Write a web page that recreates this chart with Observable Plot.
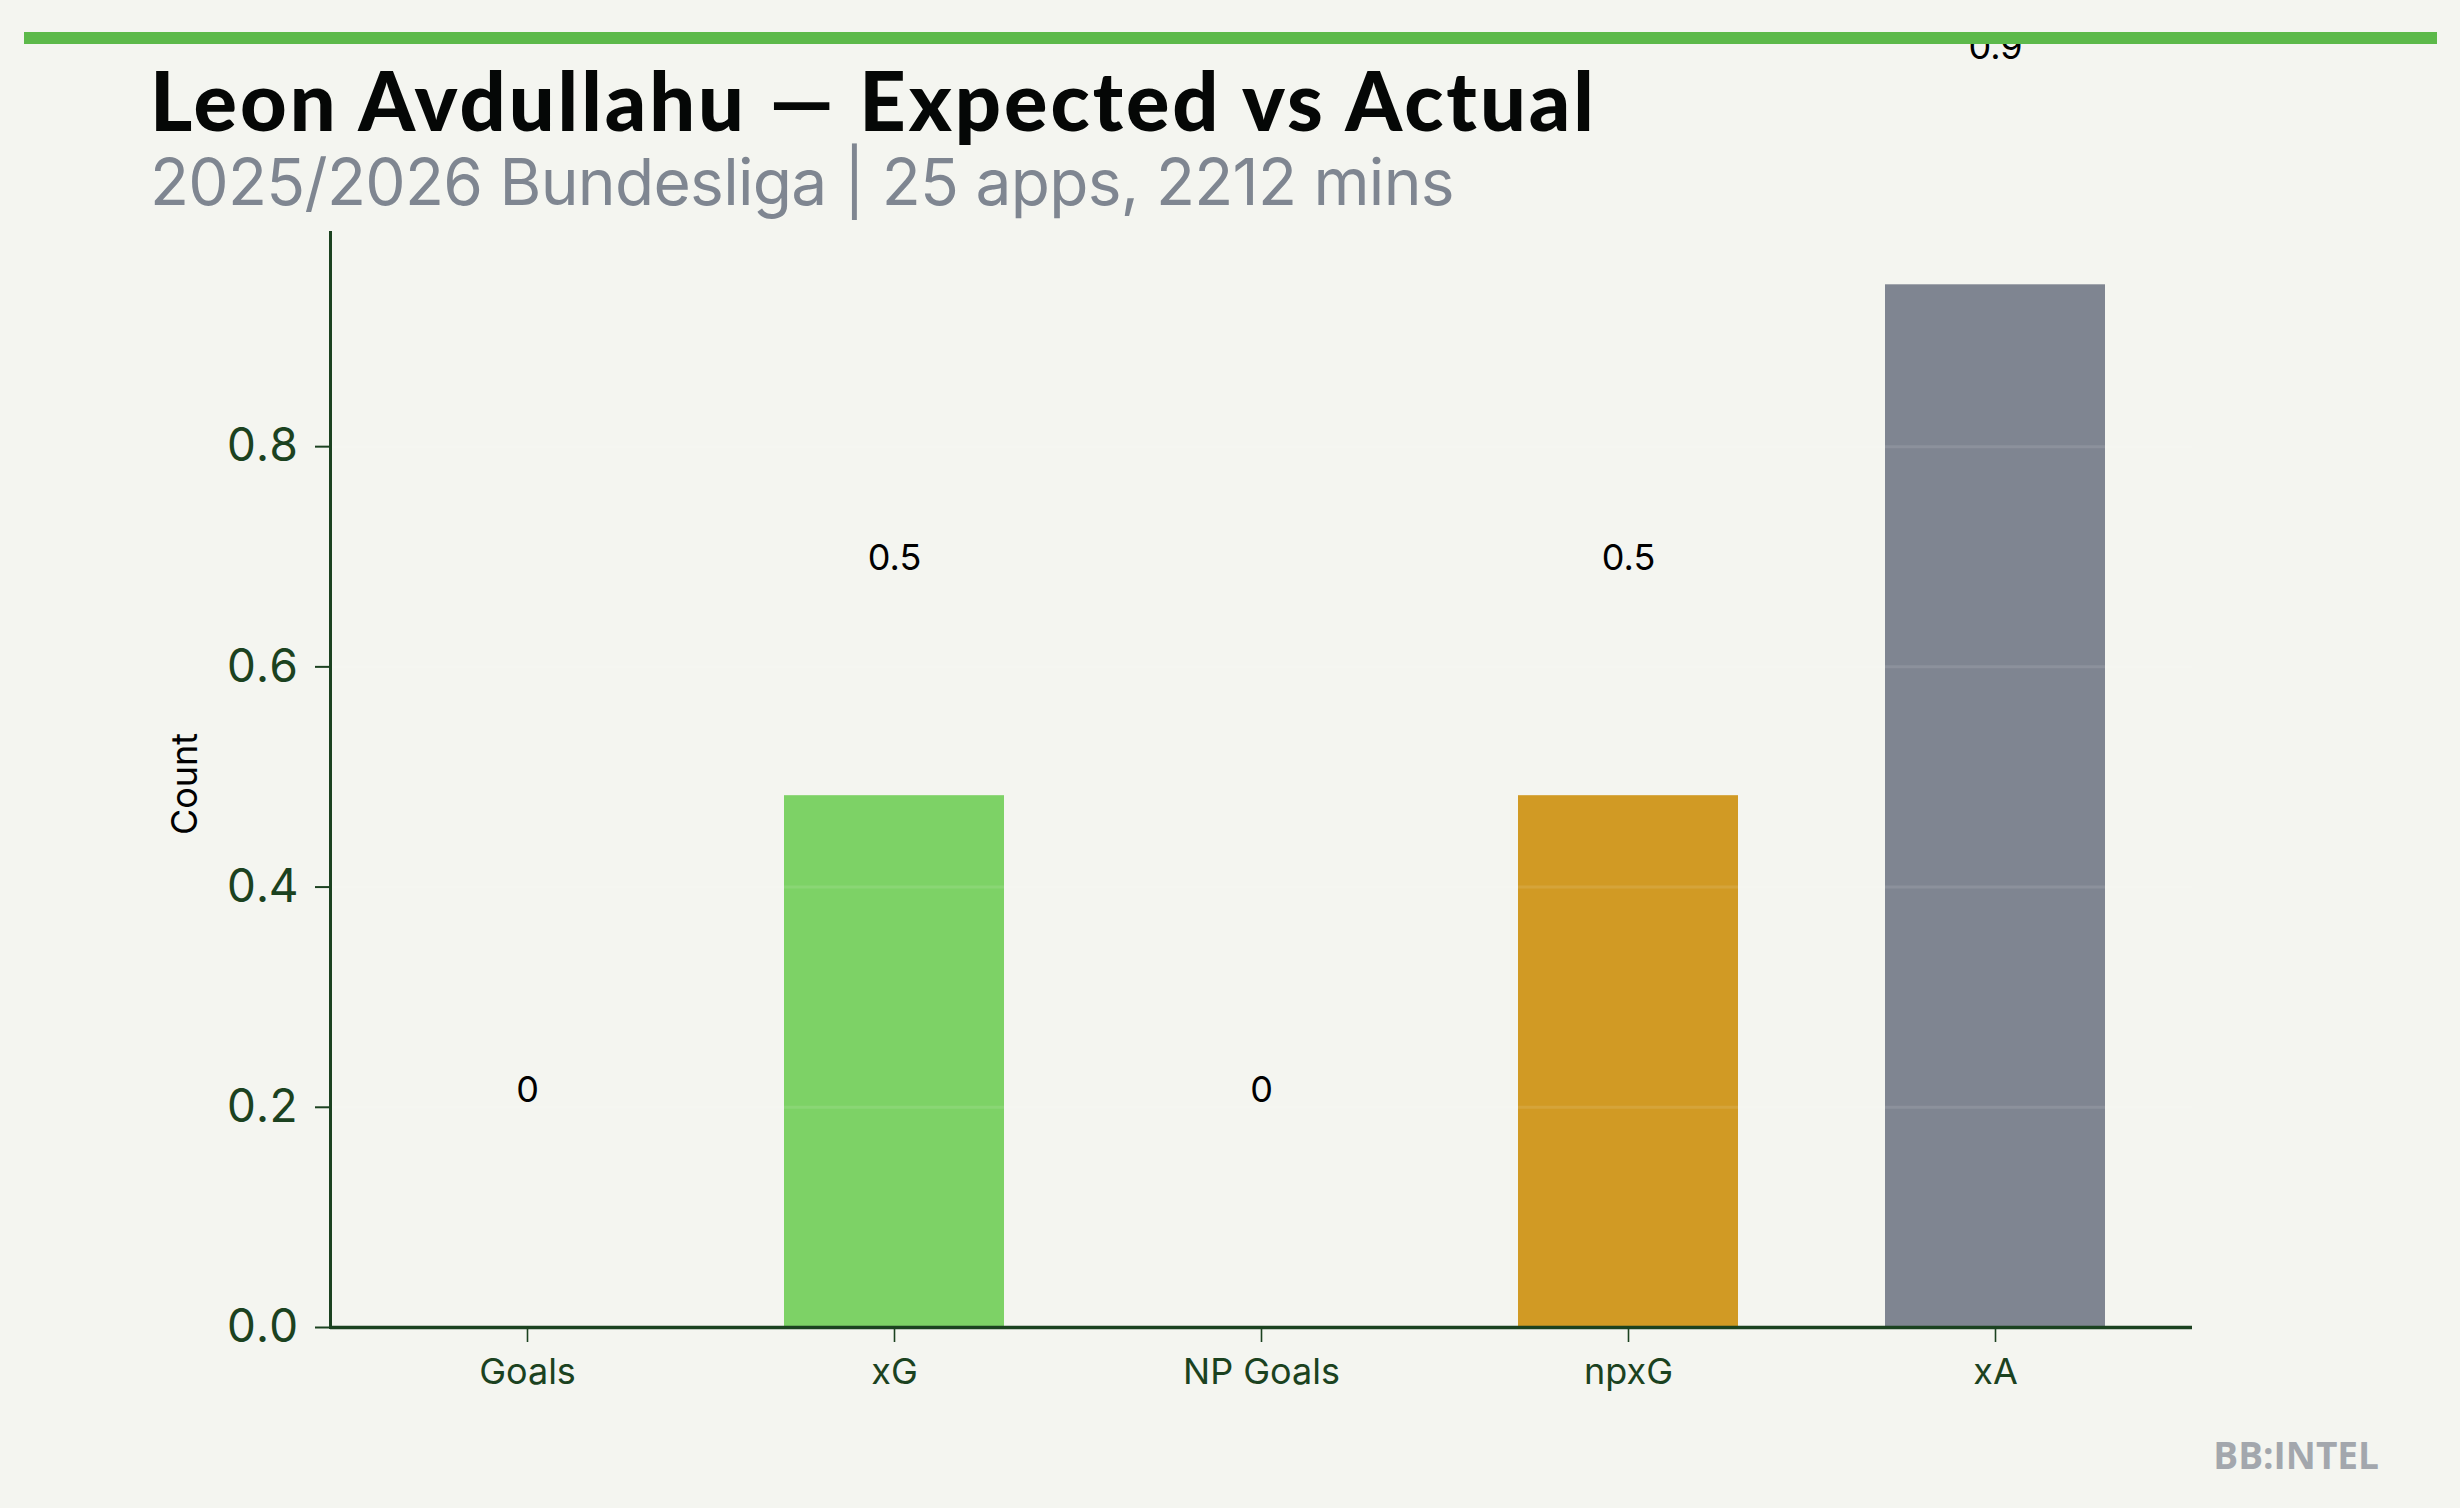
<!DOCTYPE html>
<html>
<head>
<meta charset="utf-8">
<script src="https://cdn.jsdelivr.net/npm/d3@7"></script>
<script src="https://cdn.jsdelivr.net/npm/@observablehq/plot@0.6"></script>
<style>
  html, body { margin: 0; padding: 0; background: #f4f5f0; }
  #page { position: relative; width: 2460px; height: 1508px; overflow: hidden; background: #f4f5f0; }
  #chart { position: absolute; left: 0; top: 0; z-index: 1; }
  #topbar { position: absolute; left: 24px; top: 32px; width: 2413px; height: 12px; background: #5cb94a; z-index: 3; }
  .txt { position: absolute; white-space: nowrap; line-height: 1; z-index: 2; }
  #title { left: 150px; top: 59px; font-family: Lato, sans-serif; font-weight: 900; font-size: 81px; letter-spacing: 3px; color: #050706; }
  #subtitle { left: 150px; top: 150px; font-family: Inter, sans-serif; font-size: 64px; letter-spacing: -0.7px; color: #7f8691; }
  #brand { right: 81px; top: 1436px; font-family: "Open Sans", sans-serif; font-weight: 700; font-size: 37px; color: #a3a7ad; }
</style>
</head>
<body>
<div id="page">
  <div id="topbar"></div>
  <div id="title" class="txt">Leon Avdullahu — Expected vs Actual</div>
  <div id="subtitle" class="txt">2025/2026 Bundesliga | 25 apps, 2212 mins</div>
  <div id="brand" class="txt">BB:INTEL</div>
  <div id="chart"></div>
</div>
<script>
const categories = ["Goals", "xG", "NP Goals", "npxG", "xA"];
const values = [0, 0.483, 0, 0.483, 0.947];
const valueLabels = ["0", "0.5", "0", "0.5", "0.9"];
const yTicks = [0, 0.2, 0.4, 0.6, 0.8];
const yLabel = "Count";

const data = categories.map((c, i) => ({category: c, value: values[i], label: valueLabels[i]}));
const palette = ["#7dd266", "#7dd266", "#d19a24", "#d19a24", "#7f8591"];
const axisColor = "#1b4220";

const chart = Plot.plot({
  width: 2460,
  height: 1508,
  marginLeft: 330,
  marginRight: 268,
  marginTop: 232,
  marginBottom: 181,
  style: {background: "transparent", fontFamily: "Inter, sans-serif", overflow: "visible"},
  x: {type: "band", domain: categories, paddingInner: 0.4, paddingOuter: 0.232, label: null},
  y: {domain: [0, 0.9945], label: null},
  color: {domain: categories, range: palette},
  marks: [
    Plot.barY(data, {x: "category", y: "value", fill: "category"}),
    Plot.gridY(yTicks, {stroke: "#ffffff", strokeOpacity: 0.1, strokeWidth: 3}),
    Plot.frame({anchor: "left", stroke: axisColor, strokeWidth: 3}),
    Plot.ruleY([0], {stroke: axisColor, strokeWidth: 3.5}),
    Plot.axisY({ticks: yTicks, tickFormat: d3.format(".1f"), tickSize: 15, tickPadding: 17, fontSize: 46, stroke: axisColor, strokeWidth: 2, fill: axisColor, label: null}),
    Plot.axisX({tickSize: 15, tickPadding: 16, fontSize: 36, stroke: axisColor, strokeWidth: 1.6, fill: axisColor, label: null}),
    Plot.text([yLabel], {frameAnchor: "left", textAnchor: "middle", lineAnchor: "middle", dx: -145, dy: 4, rotate: -90, fontSize: 36, fill: "#000", text: d => d}),
    Plot.text(data, {x: "category", y: "value", text: "label", dy: -237, fontSize: 36, fill: "#000", lineAnchor: "middle", textAnchor: "middle"})
  ]
});
document.getElementById("chart").appendChild(chart);
</script>
</body>
</html>
